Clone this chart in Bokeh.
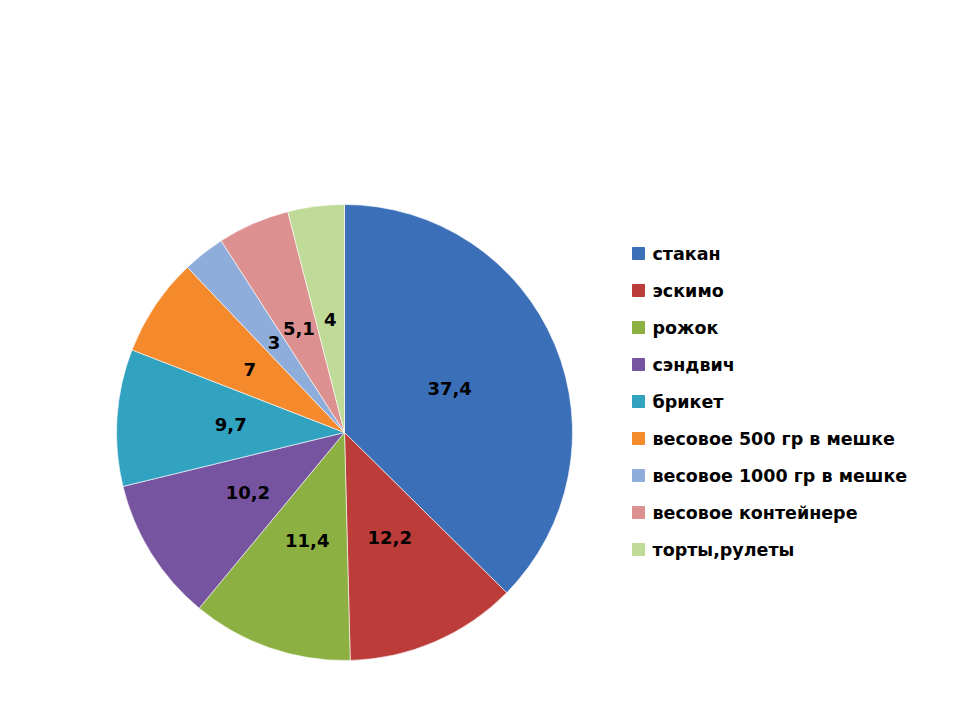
import math
from bokeh.plotting import figure
from bokeh.models import Range1d, ColumnDataSource
from bokeh.core.properties import value
from bokeh.embed import file_html
from bokeh.resources import INLINE

categories = ["стакан", "эскимо", "рожок", "сэндвич", "брикет",
              "весовое 500 гр в мешке", "весовое 1000 гр в мешке",
              "весовое  контейнере", "торты,рулеты"]
values = [37.4, 12.2, 11.4, 10.2, 9.7, 7, 3, 5.1, 4]
value_labels = ["37,4", "12,2", "11,4", "10,2", "9,7", "7", "3", "5,1", "4"]
colors = ["#3B6FB8", "#BC3C39", "#8DB042", "#7654A0", "#31A3C0",
          "#F58A2C", "#8FADDA", "#DC908F", "#C0DA98"]

W, H = 944, 704
p = figure(width=W, height=H, output_backend="svg", toolbar_location=None,
           x_range=Range1d(0, W), y_range=Range1d(720 - H, 720),
           min_border=0)
p.axis.visible = False
p.grid.visible = False
p.outline_line_color = None
p.background_fill_color = "white"

cx, cy, r = 344, 720 - 432, 228
total = sum(values)
starts, ends, lx, ly = [], [], [], []
cum = 0.0
for v in values:
    a0 = math.pi / 2 - 2 * math.pi * cum / total
    cum += v
    a1 = math.pi / 2 - 2 * math.pi * cum / total
    starts.append(a0)
    ends.append(a1)
    mid = (a0 + a1) / 2
    lx.append(cx + 0.5 * r * math.cos(mid))
    ly.append(cy + 0.5 * r * math.sin(mid))

src = ColumnDataSource(dict(start=starts, end=ends, color=colors,
                            lx=lx, ly=ly, lab=value_labels))
p.wedge(x=cx, y=cy, radius=r, start_angle="start", end_angle="end",
        direction="clock", fill_color="color", line_color="#FFFFFF",
        line_alpha=0.6, line_width=1, source=src)
p.text(x="lx", y="ly", text="lab", source=src, text_align="center",
       text_baseline="middle", text_font=value("DejaVu Sans"),
       text_font_style="bold", text_font_size="18px", text_color="black")

leg_y = [720 - (253 + 37 * i) for i in range(len(categories))]
leg = ColumnDataSource(dict(y=leg_y, lab=categories, color=colors))
p.scatter(x=638, y="y", marker="square", size=12, fill_color="color",
          line_color="color", source=leg)
p.text(x=652, y="y", text="lab", source=leg, text_align="left",
       text_baseline="middle", text_font=value("DejaVu Sans"),
       text_font_style="bold", text_font_size="17.5px", text_color="black")

open("out.html", "w").write(file_html(p, INLINE))
